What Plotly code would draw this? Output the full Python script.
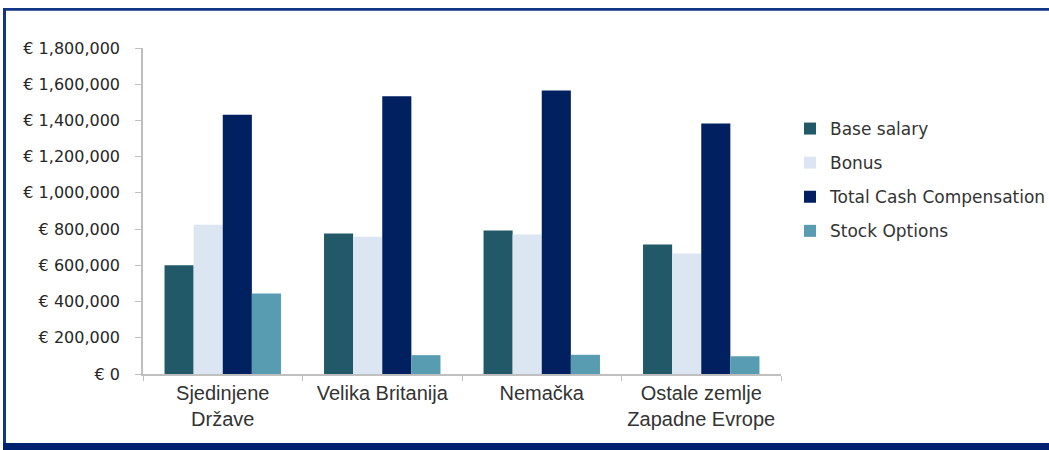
import plotly.graph_objects as go

# ---- data ----
categories = ["Sjedinjene<br>Države", "Velika Britanija", "Nemačka", "Ostale zemlje<br>Zapadne Evrope"]
base_salary = [600000, 776000, 792000, 715000]
bonus = [824000, 758000, 770000, 665000]
total_cash = [1432000, 1534000, 1565000, 1383000]
stock_options = [444000, 104000, 106000, 98000]
series_names = ["Base salary", "Bonus", "Total Cash Compensation", "Stock Options"]
series_values = [base_salary, bonus, total_cash, stock_options]
series_colors = ["#215968", "#DCE6F2", "#002060", "#579CB0"]

W, H = 1049, 450
ML, MR, MT, MB = 143, 268, 48, 76
PW, PH = W - ML - MR, H - MT - MB


def px_x(x):
    return (x - ML) / PW


def px_y(y):
    return (H - MB - y) / PH


fig = go.Figure()
for i, (name, vals, col) in enumerate(zip(series_names, series_values, series_colors)):
    fig.add_trace(go.Bar(
        x=categories, y=vals, name=name, legendgroup=name,
        marker=dict(color=col, line=dict(width=0)),
    ))

axis_col = "#BFBFBF"
fig.update_layout(
    width=W, height=H,
    margin=dict(l=ML, r=MR, t=MT, b=MB, pad=0, autoexpand=False),
    paper_bgcolor="white", plot_bgcolor="white",
    barmode="group", bargap=0.27, bargroupgap=0,
    showlegend=True,
    legend=dict(
        x=px_x(790), y=px_y(111), xanchor="left", yanchor="top",
        font=dict(family="DejaVu Sans", size=17, color="#333333"),
        traceorder="grouped", tracegroupgap=9, itemwidth=30,
        bgcolor="rgba(0,0,0,0)",
    ),
    xaxis=dict(
        showline=True, linecolor=axis_col, linewidth=1.5,
        ticks="outside", tickson="boundaries", ticklen=5, tickcolor=axis_col,
        tickfont=dict(family="Liberation Sans", size=20, color="#333333"),
        tickangle=0, automargin=False,
        showgrid=False, zeroline=False,
    ),
    yaxis=dict(
        range=[0, 1800000], dtick=200000, tickprefix="€ ", tickformat=",",
        showline=True, linecolor=axis_col, linewidth=1.5,
        ticks="outside", ticklen=6, tickcolor=axis_col,
        tickfont=dict(family="DejaVu Sans", size=16, color="#262626"),
        ticklabelstandoff=12, automargin=False,
        showgrid=False, zeroline=False,
    ),
    shapes=[
        # top frame line
        dict(type="rect", xref="paper", yref="paper",
             x0=px_x(3), x1=px_x(W + 5), y0=px_y(10.7), y1=px_y(8),
             fillcolor="#123585", line=dict(width=0), layer="above"),
        # left frame line
        dict(type="rect", xref="paper", yref="paper",
             x0=px_x(3), x1=px_x(6), y0=px_y(450), y1=px_y(8),
             fillcolor="#123585", line=dict(width=0), layer="above"),
        # bottom frame band
        dict(type="rect", xref="paper", yref="paper",
             x0=px_x(3), x1=px_x(W + 5), y0=px_y(455), y1=px_y(443),
             fillcolor="#00216F", line=dict(width=0), layer="above"),
    ],
)

fig.write_html(
    "out.html",
    config={"displayModeBar": False},
    post_script="document.body.style.margin='0';document.body.style.overflow='hidden';",
)
